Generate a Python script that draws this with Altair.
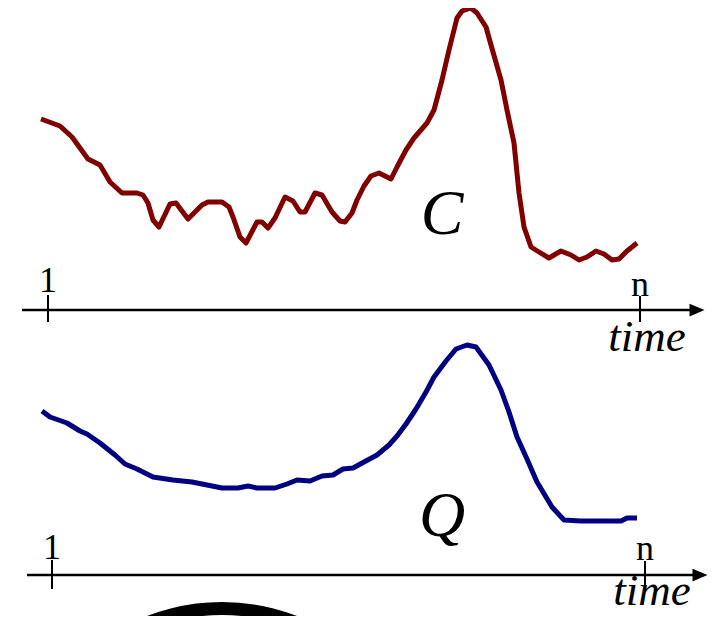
import altair as alt
import pandas as pd
import math

# Curve C (concentration): horizontal position, vertical position
C_t = [41, 60, 72, 88, 100, 110, 122, 137, 143, 148, 153, 159, 170, 176, 188, 202, 208, 222, 229, 233,
       240, 246, 257, 262, 268, 275, 285, 293, 300, 305, 315, 322, 332, 340, 345, 352, 357, 364, 371,
       379, 391, 397, 406, 414, 427, 434, 442, 449, 457, 462, 471, 477, 486, 491, 501, 507, 514, 519,
       524, 531, 539, 549, 561, 571, 579, 587, 596, 604, 612, 619, 627, 637]
C_v = [119, 126, 137, 159, 165, 182, 193, 193, 195, 203, 220, 227, 204, 203, 219, 205, 202, 202, 207, 217,
       237, 243, 222, 222, 228, 218, 197, 201, 212, 212, 193, 195, 212, 221, 222, 213, 200, 186, 176,
       173, 179, 167, 150, 138, 123, 110, 80, 50, 18, 11, 8, 13, 27, 45, 80, 110, 143, 193,
       227, 247, 252, 258, 251, 255, 260, 257, 251, 254, 260, 259, 251, 243]

# Curve Q (discharge)
Q_t = [42, 50, 67, 80, 87, 100, 115, 125, 137, 153, 173, 192, 207, 222, 238, 248, 257, 275, 287, 297,
       310, 322, 333, 343, 353, 364, 377, 389, 397, 406, 416, 426, 434, 446, 456, 467, 476, 489, 501,
       509, 517, 527, 537, 552, 564, 581, 621, 627, 637]
Q_v = [411, 417, 423, 431, 434, 443, 455, 464, 469, 477, 480, 482, 485, 488, 488, 486, 488, 488, 484, 480,
       481, 476, 475, 469, 468, 462, 455, 445, 436, 424, 409, 392, 377, 361, 349, 345, 347, 365, 390,
       412, 437, 459, 482, 507, 520, 521, 521, 518, 518]

# Time axes (two panels)
axis_x1 = [22, 27]
axis_x2 = [697, 700]
axis_y = [310, 575]

# Tick marks "1" and "n"
tick_x = [48, 640, 52, 645]
tick_y1 = [295, 296, 560, 561]
tick_y2 = [322, 322, 589, 586]
tick_text = ["1", "n", "1", "n"]
tick_label_y = [292, 296, 559, 560]

time_x = [647, 652]
time_y = [351, 605]

series_names = ["C", "Q"]
series_x = [442, 442]
series_y = [234, 536]

ring_x = [222]
ring_y = [810]

FONT = "Liberation Serif"
xs = alt.Scale(domain=[8, 720], range=[0, 712], nice=False, zero=False)
ys = alt.Scale(domain=[8, 616], reverse=True, nice=False, zero=False)

def X(f="x"):
    return alt.X(f"{f}:Q", scale=xs, axis=None)

def Y(f="y"):
    return alt.Y(f"{f}:Q", scale=ys, axis=None)

c_df = pd.DataFrame({"x": C_t, "y": C_v})
q_df = pd.DataFrame({"x": Q_t, "y": Q_v})

c_line = alt.Chart(c_df).mark_line(color="#800000", strokeWidth=5, strokeJoin="round", strokeCap="butt").encode(
    x=X(), y=Y(), order="x:Q")
q_line = alt.Chart(q_df).mark_line(color="#000080", strokeWidth=5, strokeJoin="round", strokeCap="butt").encode(
    x=X(), y=Y(), order="x:Q")

ax_df = pd.DataFrame({"x": axis_x1, "x2": axis_x2, "y": axis_y})
axes = alt.Chart(ax_df).mark_rule(color="black", strokeWidth=2.5).encode(
    x=X(), x2="x2:Q", y=Y())
arrows = alt.Chart(ax_df).mark_point(
    shape="M-1,-0.85L1,0L-1,0.85Z", filled=True, color="black", opacity=1, size=225, strokeWidth=0
).encode(x=X("x2"), y=Y())

tk_df = pd.DataFrame({"x": tick_x, "y": tick_y1, "y2": tick_y2, "t": tick_text, "ly": tick_label_y})
ticks = alt.Chart(tk_df).mark_rule(color="black", strokeWidth=2).encode(x=X(), y=Y(), y2="y2:Q")
tick_labels = alt.Chart(tk_df).mark_text(
    font=FONT, fontSize=36, align="center", baseline="alphabetic", color="black"
).encode(x=X(), y=Y("ly"), text="t:N")

tm_df = pd.DataFrame({"x": time_x, "y": time_y, "t": ["time", "time"]})
time_labels = alt.Chart(tm_df).mark_text(
    font=FONT, fontSize=45, fontStyle="italic", align="center", baseline="alphabetic", color="black"
).encode(x=X(), y=Y(), text="t:N")

sn_df = pd.DataFrame({"x": series_x, "y": series_y, "t": series_names})
series_labels = alt.Chart(sn_df).mark_text(
    font=FONT, fontSize=64, fontStyle="italic", align="center", baseline="alphabetic", color="black"
).encode(x=X(), y=Y(), text="t:N")

ring_df = pd.DataFrame({"x": ring_x, "y": ring_y})
ring = alt.Chart(ring_df).mark_arc(
    color="black", radius=195, radius2=208,
    theta=2 * math.pi - 0.5, theta2=2 * math.pi + 0.5
).encode(x=X(), y=Y())

chart = alt.layer(
    ring, axes, arrows, ticks, c_line, q_line, tick_labels, time_labels, series_labels
).properties(
    width=712, height=608, padding=0, autosize=alt.AutoSizeParams(type="none")
).configure_view(stroke=None)

chart.save("out.html", embed_options={"renderer": "svg", "actions": False})
